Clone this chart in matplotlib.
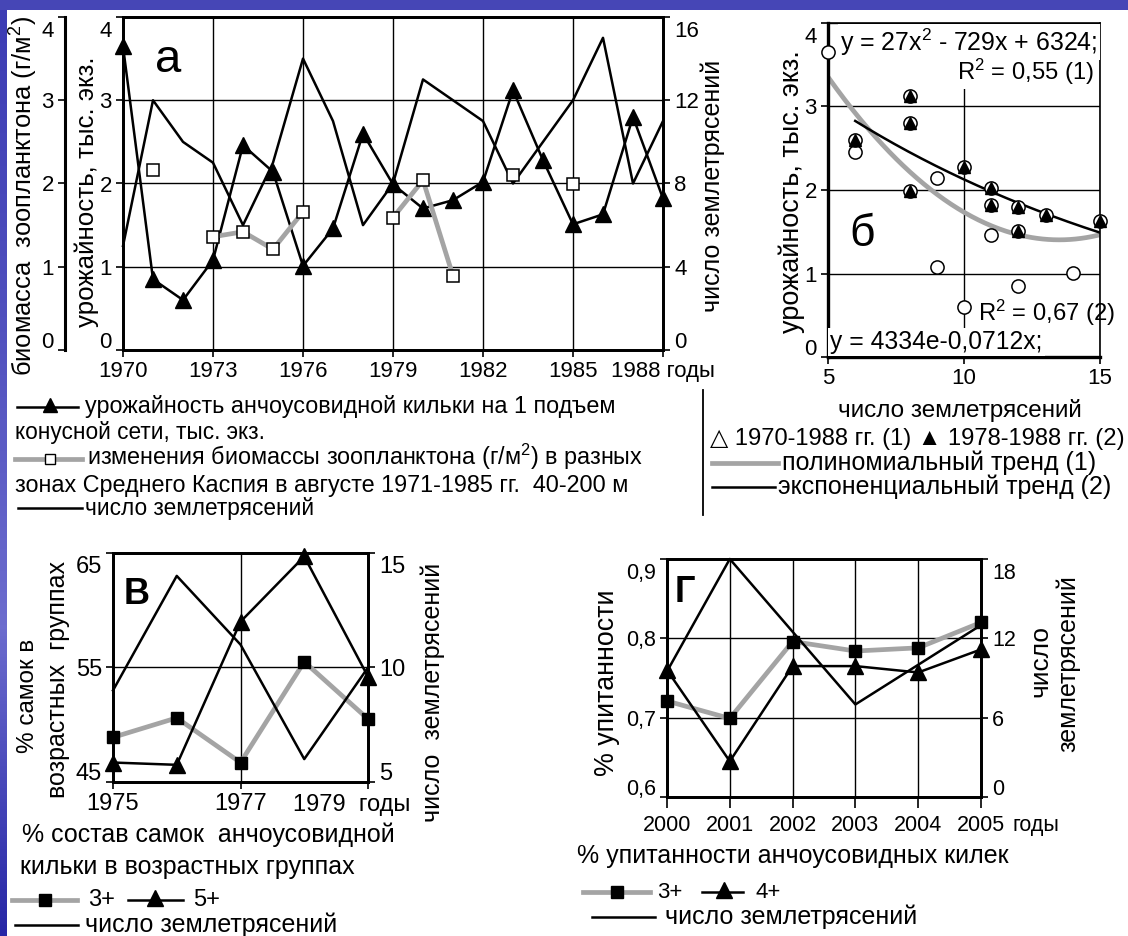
import numpy as np
import matplotlib
matplotlib.use('Agg')
import matplotlib.pyplot as plt
from matplotlib.lines import Line2D
from matplotlib.patches import Rectangle
from matplotlib.colors import LinearSegmentedColormap
import matplotlib.transforms as mtransforms

plt.rcParams['font.family'] = ['Liberation Sans', 'DejaVu Sans']
plt.rcParams['mathtext.fontset'] = 'custom'
plt.rcParams['mathtext.rm'] = 'Liberation Sans'
plt.rcParams['mathtext.it'] = 'Liberation Sans'
plt.rcParams['mathtext.default'] = 'regular'

# ---------------- data ----------------
# panel а (1970-1988)
years_a = [1970, 1971, 1972, 1973, 1974, 1975, 1976, 1977, 1978, 1979,
           1980, 1981, 1982, 1983, 1984, 1985, 1986, 1987, 1988]
yield_a = [3.65, 0.85, 0.60, 1.08, 2.46, 2.14, 1.01, 1.46, 2.60, 1.99,
           1.70, 1.80, 2.02, 3.12, 2.28, 1.51, 1.63, 2.80, 1.82]
quakes_a = [5, 12, 10, 9, 6, 9, 14, 11, 6, 8,
            13, 12, 11, 8, 10, 12, 15, 8, 11]
biomass_a = [np.nan, 2.16, np.nan, 1.36, 1.42, 1.21, 1.66, np.nan, np.nan, 1.59,
             2.04, 0.89, np.nan, 2.10, np.nan, 1.99, np.nan, np.nan, np.nan]
xticks_a = [1970, 1973, 1976, 1979, 1982, 1985, 1988]
xlabels_a = ['1970', '1973', '1976', '1979', '1982', '1985', '1988 годы']
first_year_2 = 1978

# panel б trend equations (as shown on the chart)
poly_coef = [27, -729, 6324]
exp_coef = [4334, -0.0712]

# panel в (1975-1979)
years_v = [1975, 1976, 1977, 1978, 1979]
v_3plus = [48.9, 50.6, 46.7, 55.5, 50.5]
v_5plus = [46.7, 46.5, 59.0, 64.7, 54.2]
v_quakes = [9, 14, 11, 6, 10]

# panel г (2000-2005)
years_g = [2000, 2001, 2002, 2003, 2004, 2005]
g_3plus = [0.721, 0.699, 0.796, 0.784, 0.788, 0.820]
g_4plus = [0.760, 0.645, 0.765, 0.765, 0.757, 0.786]
g_quakes = [9.5, 18, 12.5, 7, 10, 13]
ylabels_g = ['0,6', '0,7', '0,8', '0,9']

# ---------------- figure ----------------
W, H = 1128, 936
fig = plt.figure(figsize=(W / 100, H / 100), dpi=100)
fig.patch.set_facecolor('#4646b6')
renderer = fig.canvas.get_renderer()

GRAY = '#a4a4a4'
GLW = 3.4
BLW = 1.8
CAP = 18
LCAP = 16.8


def R(l, t, r, b):
    return [l / W, 1 - b / H, (r - l) / W, (b - t) / H]


def T(x, y, s, fit=None, maxfs=None, vertical=False, fs=15, ha='left', va='center', **kw):
    t = fig.text(x / W, 1 - y / H, s, fontsize=fs, ha=ha, va=va,
                 rotation=90 if vertical else 0, color='k', **kw)
    if fit:
        bb = t.get_window_extent(renderer)
        cur = bb.height if vertical else bb.width
        new = fs * fit / cur
        if maxfs:
            new = min(new, maxfs)
        t.set_fontsize(new)
    return t


def L(xs, ys, **kw):
    fig.add_artist(Line2D([x / W for x in xs], [1 - y / H for y in ys],
                          transform=fig.transFigure, **kw))


def M(x, y, marker, **kw):
    fig.add_artist(Line2D([x / W], [1 - y / H], marker=marker, ls='none',
                          transform=fig.transFigure, **kw))


def nudge(ax, top=-12, bottom=10):
    labs = ax.get_yticklabels()
    if not labs:
        return
    labs[0].set_transform(labs[0].get_transform() +
                          mtransforms.ScaledTranslation(0, bottom / 100, fig.dpi_scale_trans))
    labs[-1].set_transform(labs[-1].get_transform() +
                           mtransforms.ScaledTranslation(0, top / 100, fig.dpi_scale_trans))


def style(ax, fs, lw=2.0):
    for s in ax.spines.values():
        s.set_linewidth(lw)
    ax.tick_params(labelsize=fs, width=1.2, length=5, pad=3, colors='k')


# background: white page with blue frame
fig.add_artist(Rectangle((7 / W, 0), 1 - 7 / W, 1 - 10 / H, transform=fig.transFigure,
                         facecolor='white', edgecolor='none', zorder=-5))
axbg = fig.add_axes([0, 0, 7 / W, 1 - 10 / H], zorder=-4)
cm = LinearSegmentedColormap.from_list('bg', ['#3c3cb4', '#5050be', '#6c6cce', '#2626a6'])
axbg.imshow(np.linspace(0, 1, 256)[:, None], aspect='auto', cmap=cm)
axbg.axis('off')

# ================= panel а =================
axA = fig.add_axes(R(123, 17, 663, 350))
axA.set_xlim(1970, 1988)
axA.set_ylim(0, 4)
axA.set_xticks(xticks_a)
axA.set_xticklabels(xlabels_a)
axA.set_yticks([0, 1, 2, 3, 4])
axA.grid(True, color='k', lw=1.0)
axA.plot(years_a, yield_a, color='k', lw=BLW, marker='^', ms=11, zorder=5, clip_on=False)
style(axA, 16)

axQ = axA.twinx()
axQ.set_ylim(0, 16)
axQ.set_yticks([0, 4, 8, 12, 16])
axQ.plot(years_a, quakes_a, color='k', lw=BLW, clip_on=False)
style(axQ, 16)

axB = axA.twinx()
axB.spines['right'].set_visible(False)
axB.spines['top'].set_visible(False)
axB.spines['bottom'].set_visible(False)
axB.spines['left'].set_visible(True)
axB.spines['left'].set_position(('outward', 58 * 0.72))
axB.yaxis.set_ticks_position('left')
axB.set_ylim(0, 4)
axB.set_yticks([0, 1, 2, 3, 4])
axB.plot(years_a, biomass_a, color=GRAY, lw=GLW, marker='s', ms=8, mfc='white',
         mec='k', mew=1.1, clip_on=False)
style(axB, 16)
axB.spines['left'].set_linewidth(2.2)

for a in (axA, axQ, axB):
    nudge(a)

T(168, 60, 'а', fs=34, ha='center')
T(87, 192, 'урожайность, тыс. экз.', fit=271, vertical=True, ha='center')
T(24, 196, 'биомасса  зоопланктона (г/м$^{2}$)', fit=362, vertical=True, ha='center')
T(713, 186, 'число землетрясений', fit=262, maxfs=CAP, vertical=True, ha='center')

# legend а
L([17, 78], [407, 407], color='k', lw=BLW)
M(50, 405, '^', ms=10, color='k')
T(85, 406, 'урожайность анчоусовидной кильки на 1 подъем', fit=603, maxfs=LCAP)
T(15, 432, 'конусной сети, тыс. экз.', fs=16.3)
L([15, 82], [459, 459], color=GRAY, lw=GLW)
M(50, 459, 's', ms=7, mfc='white', mec='k', mew=1)
T(87, 457, 'изменения биомассы зоопланктона (г/м$^{2}$) в разных', fit=613, maxfs=LCAP)
T(15, 485, 'зонах Среднего Каспия в августе 1971-1985 гг.  40-200 м', fit=670, maxfs=LCAP)
L([18, 82], [508, 508], color='k', lw=BLW)
T(85, 508, 'число землетрясений', fit=255, maxfs=16.3)
L([703, 703], [390, 515], color='k', lw=1.3)

# ================= panel б =================
axS = fig.add_axes(R(828, 23, 1100, 357))
axS.set_xlim(5, 15)
axS.set_ylim(0, 4)
axS.set_xticks([5, 10, 15])
axS.set_yticks([0, 1, 2, 3, 4])
axS.grid(True, color='k', lw=1.0)
xp = np.linspace(min(quakes_a), max(quakes_a), 200)
axS.plot(xp, np.polyval(poly_coef, xp) / 1000, color=GRAY, lw=GLW, zorder=2)
q2 = [q for q, y in zip(quakes_a, years_a) if y >= first_year_2]
y2 = [v for v, y in zip(yield_a, years_a) if y >= first_year_2]
xe = np.linspace(min(q2), max(q2), 200)
axS.plot(xe, exp_coef[0] * np.exp(exp_coef[1] * xe) / 1000, color='k', lw=BLW, zorder=2)
axS.plot(quakes_a, yield_a, ls='none', marker='o', ms=9.5, mfc='white', mec='k', mew=1.1,
         zorder=4, clip_on=False)
axS.plot(q2, y2, ls='none', marker='^', ms=8.5, color='k', zorder=5, clip_on=False)
style(axS, 16)
axS.spines['top'].set_linewidth(1.2)
axS.spines['right'].set_linewidth(1.2)
axS.spines['left'].set_linewidth(2.4)
axS.spines['bottom'].set_linewidth(2.4)
nudge(axS)

wb = dict(facecolor='white', edgecolor='none', pad=1.5)
T(840, 42, 'y = 27x$^{2}$ - 729x + 6324;', fit=258, bbox=wb)
T(1094, 72, 'R$^{2}$ = 0,55 (1)', fit=137, ha='right', bbox=wb)
T(978, 313, 'R$^{2}$ = 0,67 (2)', fit=137)
T(830, 342, 'y = 4334e-0,0712x;', fit=212, bbox=wb)
T(862, 235, 'б', fs=32, ha='center')
T(792, 192, 'урожайность, тыс. экз.', fit=283, vertical=True, ha='center')
T(960, 410, 'число землетрясений', fit=246, maxfs=CAP, ha='center')

# legend б
T(710, 439, '△ 1970-1988 гг. (1) ▲ 1978-1988 гг. (2)', fit=417, maxfs=CAP)
L([712, 778], [463, 463], color=GRAY, lw=GLW)
T(782, 463, 'полиномиальный тренд (1)', fit=343, maxfs=CAP)
L([712, 775], [487, 487], color='k', lw=BLW)
T(778, 487, 'экспоненциальный тренд (2)', fit=349, maxfs=CAP)

# ================= panel в =================
axV = fig.add_axes(R(113, 553, 368, 782))
axV.set_xlim(1975, 1979)
axV.set_ylim(45, 65)
axV.set_xticks([1975, 1977, 1979])
axV.set_xticklabels(['1975', '1977', ''])
axV.set_yticks([45, 55, 65])
axV.grid(True, color='k', lw=1.0)
axV.plot(years_v, v_3plus, color=GRAY, lw=GLW, marker='s', ms=9, mfc='k', mec='k',
         zorder=4, clip_on=False)
axV.plot(years_v, v_5plus, color='k', lw=BLW, marker='^', ms=11, zorder=5, clip_on=False)
style(axV, 17)
axV2 = axV.twinx()
axV2.set_ylim(5, 15)
axV2.set_yticks([5, 10, 15])
axV2.plot(years_v, v_quakes, color='k', lw=BLW, clip_on=False)
style(axV2, 17)
nudge(axV)
nudge(axV2)

T(293, 805, '1979  годы', fs=17)
T(137, 594, 'В', fs=26, ha='center', fontweight='bold')
T(28, 696, '% самок в', fit=115, vertical=True, ha='center')
T(58, 680, 'возрастных  группах', fit=254, maxfs=CAP, vertical=True, ha='center')
T(433, 692, 'число  землетрясений', fit=265, maxfs=CAP, vertical=True, ha='center')
T(22, 835, '% состав самок  анчоусовидной', fit=393, maxfs=CAP)
T(20, 867, 'кильки в возрастных группах', fit=360, maxfs=CAP)
L([12, 77], [900, 900], color=GRAY, lw=GLW)
M(45, 900, 's', ms=9, color='k')
T(88, 900, '3+', fs=17)
L([128, 183], [900, 900], color='k', lw=BLW)
M(155, 898, '^', ms=11, color='k')
T(193, 900, '5+', fs=17)
L([15, 78], [925, 925], color='k', lw=BLW)
T(85, 925, 'число землетрясений', fit=258, maxfs=CAP)

# ================= panel г =================
axG = fig.add_axes(R(667, 559, 981, 797))
axG.set_xlim(2000, 2005)
axG.set_ylim(0.6, 0.9)
axG.set_xticks(years_g)
axG.set_yticks([0.6, 0.7, 0.8, 0.9])
axG.set_yticklabels(ylabels_g)
axG.grid(True, color='k', lw=1.0)
axG.plot(years_g, g_3plus, color=GRAY, lw=GLW, marker='s', ms=9, mfc='k', mec='k',
         zorder=4, clip_on=False)
axG.plot(years_g, g_4plus, color='k', lw=BLW, marker='^', ms=11, zorder=5, clip_on=False)
style(axG, 15.5)
axG.tick_params(axis='x', length=8, pad=5)
axG2 = axG.twinx()
axG2.set_ylim(0, 18)
axG2.set_yticks([0, 6, 12, 18])
axG2.plot(years_g, g_quakes, color='k', lw=BLW, clip_on=False)
style(axG2, 15.5)
nudge(axG)
nudge(axG2)

T(1013, 826, 'годы', fs=15.5)
T(685, 592, 'Г', fs=26, ha='center', fontweight='bold')
T(607, 683, '% упитанности', fit=187, vertical=True, ha='center')
T(1040, 661, 'число', fit=72, vertical=True, ha='center')
T(1068, 664, 'землетрясений', fit=182, maxfs=CAP, vertical=True, ha='center')
T(577, 856, '% упитанности анчоусовидных килек', fit=460, maxfs=CAP)
L([583, 650], [892, 892], color=GRAY, lw=GLW)
M(617, 892, 's', ms=9, color='k')
T(657, 892, '3+', fs=16)
L([702, 743], [892, 892], color='k', lw=BLW)
M(724, 890, '^', ms=11, color='k')
T(755, 892, '4+', fs=16)
L([592, 655], [917, 917], color='k', lw=BLW)
T(665, 917, 'число землетрясений', fit=257, maxfs=CAP)

fig.savefig('out.png', dpi=100)
